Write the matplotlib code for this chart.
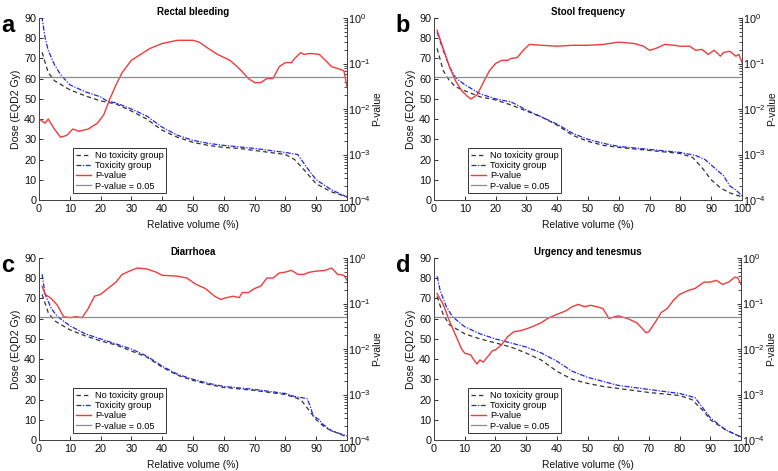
import matplotlib
matplotlib.use("Agg")
import matplotlib.pyplot as plt
import numpy as np
from matplotlib.ticker import LogLocator, NullFormatter, FixedLocator

plt.rcParams['font.family'] = ['Liberation Sans', 'DejaVu Sans']
plt.rcParams['mathtext.fontset'] = 'custom'
plt.rcParams['mathtext.rm'] = 'Liberation Sans'
plt.rcParams['mathtext.it'] = 'Liberation Sans'

titles = ["Rectal bleeding", "Stool frequency", "Diarrhoea", "Urgency and tenesmus"]
letters = ["a", "b", "c", "d"]

# panel a
a_no_x = [1, 3, 5, 10, 15, 20, 25, 30, 35, 40, 45, 50, 55, 60, 65, 70, 75, 80, 83, 86, 90, 95, 100]
a_no_y = [73, 63, 59, 54.5, 51.5, 49, 47.5, 44, 40, 34.5, 31, 28.5, 27, 26, 25.5, 24.5, 23.5, 22.5, 20, 15, 8, 4, 1.5]
a_tox_x = [0.5, 1, 2, 3, 5, 7, 10, 15, 20, 22, 25, 30, 35, 40, 45, 50, 55, 60, 70, 80, 84, 87, 90, 95, 100]
a_tox_y = [90, 90, 80, 74, 67, 62, 57, 53.5, 51, 49, 48, 45, 41.5, 36, 32, 29.5, 28, 27, 25.5, 23.5, 22.5, 16, 10, 5, 1.5]
a_p_x = [0, 2, 3, 5, 7, 9, 11, 13, 16, 19, 21, 23, 25, 27, 30, 33, 36, 40, 45, 50, 52, 55, 58, 62, 65, 68, 70,
         72, 74, 76, 78, 80, 82, 83, 85, 86, 88, 91, 93, 95, 97, 99, 100]
a_p_log = [-2.22, -2.31, -2.22, -2.44, -2.62, -2.58, -2.44, -2.49, -2.44, -2.31, -2.13, -1.78, -1.47, -1.20,
           -0.93, -0.80, -0.67, -0.56, -0.49, -0.49, -0.53, -0.67, -0.80, -0.93, -1.11, -1.33, -1.42,
           -1.42, -1.33, -1.33, -1.07, -0.98, -0.98, -0.89, -0.76, -0.80, -0.78, -0.80, -0.93, -1.07,
           -1.11, -1.16, -1.51]

# panel b
b_no_x = [1, 3, 5, 7, 10, 15, 20, 25, 30, 35, 40, 45, 50, 55, 60, 70, 80, 84, 87, 90, 93, 96, 100]
b_no_y = [75, 64, 59, 56, 54, 51, 49.5, 47, 44, 41, 37, 32, 29, 27, 26, 24.5, 23, 21, 16, 10, 6, 3.5, 1.5]
b_tox_x = [1, 3, 5, 7, 10, 15, 20, 25, 27, 30, 35, 40, 45, 50, 55, 60, 70, 80, 85, 88, 91, 94, 96, 98, 100]
b_tox_y = [83, 74, 66, 60.5, 57, 52.5, 50, 48.5, 47, 44.5, 41, 37.5, 33, 30, 28, 26.5, 25, 23.5, 22, 20, 16,
           12, 7, 5, 2]
b_p_x = [1, 3, 5, 7, 9, 11, 12, 14, 16, 18, 20, 22, 24, 25, 27, 29, 31, 35, 40, 45, 50, 55, 60, 65, 68, 70,
         72, 75, 78, 80, 83, 85, 87, 89, 91, 93, 94, 96, 98, 99, 100]
b_p_log = [-0.27, -0.67, -1.07, -1.38, -1.60, -1.73, -1.78, -1.69, -1.42, -1.16, -1.00, -0.93, -0.93, -0.89,
           -0.87, -0.71, -0.58, -0.60, -0.62, -0.60, -0.60, -0.58, -0.53, -0.56, -0.62, -0.71, -0.67,
           -0.58, -0.60, -0.62, -0.62, -0.71, -0.69, -0.80, -0.71, -0.84, -0.76, -0.73, -0.84, -0.80, -0.98]

# panel c
c_no_x = [1, 3, 5, 10, 15, 20, 25, 30, 35, 40, 45, 50, 55, 60, 70, 80, 85, 88, 90, 93, 96, 100]
c_no_y = [72, 63, 59, 54.5, 51.5, 49, 47, 44, 41, 36, 32, 29.5, 27.5, 26, 24.5, 22.5, 20, 14, 10, 6, 4, 1.5]
c_tox_x = [1, 2, 4, 6, 10, 15, 20, 25, 30, 35, 40, 45, 50, 55, 60, 70, 80, 83, 87, 88, 89, 91, 92, 95, 100]
c_tox_y = [82, 72, 65, 61, 56.5, 52.5, 50, 47.5, 45, 41.5, 36.5, 32.5, 30, 28, 26.5, 25, 23, 21.5, 20.5, 17,
           12, 10, 8, 4.5, 2]
c_p_x = [1, 2, 4, 6, 8, 10, 12, 14, 16, 18, 20, 22, 25, 27, 30, 32, 35, 38, 40, 45, 48, 51, 54, 57, 59, 61,
         63, 65, 66, 68, 70, 72, 74, 76, 78, 80, 82, 84, 86, 88, 90, 93, 95, 97, 99, 100]
c_p_log = [-0.62, -0.80, -0.89, -1.04, -1.29, -1.31, -1.29, -1.31, -1.11, -0.84, -0.80, -0.69, -0.53, -0.36,
           -0.27, -0.22, -0.24, -0.31, -0.38, -0.40, -0.44, -0.58, -0.67, -0.84, -0.91, -0.87, -0.84,
           -0.87, -0.76, -0.76, -0.67, -0.62, -0.44, -0.44, -0.33, -0.31, -0.27, -0.36, -0.36, -0.31,
           -0.29, -0.27, -0.22, -0.36, -0.38, -0.49]

# panel d
d_no_x = [1, 3, 5, 10, 15, 20, 25, 30, 35, 40, 45, 50, 55, 60, 70, 80, 84, 88, 90, 95, 100]
d_no_y = [71, 62, 57, 52.5, 50, 48, 46, 43, 39.5, 34, 30, 28, 26.5, 25.5, 23.5, 22, 20, 14, 10, 5, 1.5]
d_tox_x = [1, 2, 4, 6, 10, 15, 20, 25, 30, 35, 40, 45, 50, 55, 60, 70, 80, 85, 88, 90, 95, 100]
d_tox_y = [81, 74, 66, 61, 56, 52.5, 50, 48, 46, 43, 39, 34, 31, 29, 27, 25, 23, 21, 15, 11, 5, 1.5]
d_p_x = [1, 3, 5, 7, 9, 10, 12, 13, 14, 15, 16, 18, 19, 20, 22, 24, 26, 28, 30, 32, 35, 37, 40, 43, 45, 47,
         49, 51, 53, 55, 57, 60, 63, 66, 68, 69, 70, 72, 74, 76, 78, 80, 83, 85, 88, 90, 92, 94, 96, 98,
         99, 100]
d_p_log = [-0.78, -1.02, -1.38, -1.69, -2.00, -2.09, -2.13, -2.24, -2.33, -2.24, -2.29, -2.13, -2.04, -2.02,
           -1.91, -1.73, -1.62, -1.60, -1.56, -1.51, -1.42, -1.33, -1.24, -1.16, -1.07, -1.02, -1.07,
           -1.04, -1.07, -1.11, -1.33, -1.27, -1.33, -1.42, -1.56, -1.64, -1.62, -1.42, -1.20, -1.11,
           -0.93, -0.80, -0.71, -0.67, -0.53, -0.53, -0.49, -0.58, -0.53, -0.42, -0.44, -0.58]

panels = [
    (a_no_x, a_no_y, a_tox_x, a_tox_y, a_p_x, a_p_log),
    (b_no_x, b_no_y, b_tox_x, b_tox_y, b_p_x, b_p_log),
    (c_no_x, c_no_y, c_tox_x, c_tox_y, c_p_x, c_p_log),
    (d_no_x, d_no_y, d_tox_x, d_tox_y, d_p_x, d_p_log),
]

fig = plt.figure(figsize=(7.78, 4.71), dpi=100)

W, H = 778.0, 471.0
boxes = [(39, 18, 347, 200), (434, 18, 742, 200), (39, 258, 347, 440), (434, 258, 741, 440)]

for i, (nx, ny, tx, ty, px, plog) in enumerate(panels):
    l, t, r, b = boxes[i]
    ax = fig.add_axes([l / W, 1 - b / H, (r - l) / W, (b - t) / H])
    ax2 = ax.twinx()

    h1, = ax.plot(nx, ny, color='#333333', ls=(0, (3.5, 2.5)), lw=0.9)
    h2, = ax.plot(tx, ty, color='#2424e8', ls=(0, (4, 1.2, 1, 1.2)), lw=0.9)
    h3, = ax2.plot(px, 10 ** np.array(plog), color='#ee3b3b', lw=1.0)
    h4 = ax2.axhline(0.05, color='#8c8c8c', lw=0.9)

    ax.set_xlim(0, 100)
    ax.set_ylim(0, 90)
    ax.set_xticks(np.arange(0, 101, 10))
    ax.set_yticks(np.arange(0, 91, 10))
    ax2.set_yscale('log')
    ax2.set_ylim(1e-4, 1)
    ax2.yaxis.set_major_locator(FixedLocator([1e-4, 1e-3, 1e-2, 1e-1, 1]))
    ax2.yaxis.set_minor_locator(LogLocator(base=10, subs=np.arange(2, 10), numticks=20))
    ax2.yaxis.set_minor_formatter(NullFormatter())

    for a_ in (ax, ax2):
        a_.spines['top'].set_visible(False)
        a_.tick_params(direction='in', labelsize=7.8, length=3, width=0.6, colors='#111111')
        a_.tick_params(which='minor', direction='in', length=2, width=0.5)
        for s in a_.spines.values():
            s.set_linewidth(0.7)
            s.set_color('#444444')
    ax.tick_params(axis='x', pad=3)
    ax.tick_params(axis='y', pad=2)
    ax2.tick_params(axis='y', pad=1)

    ax.set_xlabel('Relative volume (%)', fontsize=7.4, labelpad=4, color='#111111')
    ax.set_ylabel('Dose (EQD2 Gy)', fontsize=7.6, labelpad=2, color='#111111')
    ax2.set_ylabel('P-value', fontsize=7.4, labelpad=1, color='#111111')
    ax.set_title(titles[i], fontsize=7, fontweight='bold', pad=2)

    leg = ax.legend([h1, h2, h3, h4], ['No toxicity group', 'Toxicity group', 'P-value', 'P-value = 0.05'],
                    loc='lower left', bbox_to_anchor=(0.11, 0.037), fontsize=6.6, fancybox=False,
                    framealpha=1, edgecolor='#333333', handlelength=1.7, handletextpad=0.4,
                    borderpad=0.3, labelspacing=0.12, borderaxespad=0)
    leg.get_frame().set_linewidth(0.7)

    fig.text((l - 39) / W + 0.001, 1 - (t - 4) / H, letters[i], fontsize=17, fontweight='bold',
             va='top', ha='left')

fig.savefig('out.png', dpi=100)
